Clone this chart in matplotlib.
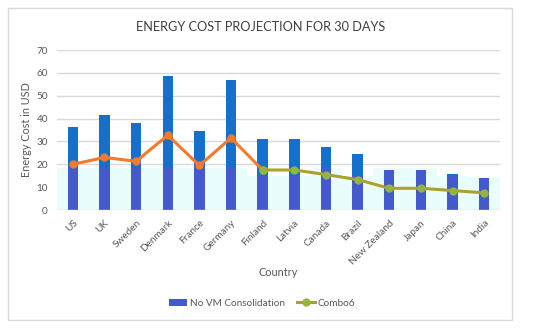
import matplotlib
matplotlib.use("Agg")
import matplotlib.pyplot as plt
from matplotlib.patches import Rectangle
from matplotlib.lines import Line2D
from matplotlib.patches import Patch
import numpy as np

countries = ["US", "UK", "Sweden", "Denmark", "France", "Germany", "Finland",
             "Latvia", "Canada", "Brazil", "New Zealand", "Japan", "China", "India"]
no_vm = [36.5, 41.5, 38.0, 58.7, 34.7, 57.0, 31.2, 31.2, 27.7, 24.3, 17.4, 17.4, 15.7, 14.0]
combo6 = [20.0, 23.0, 21.3, 32.7, 19.5, 31.5, 17.5, 17.5, 15.5, 13.3, 9.5, 9.5, 8.5, 7.5]
band = [18.3, 18.3, 18.3, 18.3, 18.3, 18.3, 15.0, 15.0, 18.3, 15.0, 18.3, 18.3, 15.0, 14.5]
yticks = [0, 10, 20, 30, 40, 50, 60, 70]

plt.rcParams['font.family'] = ['Lato', 'DejaVu Sans']
fig = plt.figure(figsize=(5.5, 3.31), dpi=100)
fig.patches.append(Rectangle((8/550, 1-320/331), 504/550, 312/331, transform=fig.transFigure,
                             fill=False, edgecolor="#D9D9D9", linewidth=1))
ax = fig.add_axes([57/550, 1-210/331, 443/550, 160/331])
x = np.arange(len(countries))

ax.bar(x, band, width=1.0, color="#E9FDFD", zorder=1)
ax.bar(x, no_vm, width=0.33, color="#1570CC", zorder=2)
ax.bar(x, [min(a, b) for a, b in zip(no_vm, band)], width=0.33, color="#4459CB", zorder=2.5)

ax.plot(x[:7], combo6[:7], color="#F47A2C", linewidth=2.2, marker="o", markersize=5,
        markerfacecolor="#F47A2C", markeredgecolor="#F47A2C", zorder=4)
ax.plot(x[6:], combo6[6:], color="#ADA02E", linewidth=2.2, marker="o", markersize=5,
        markerfacecolor="#93B63C", markeredgecolor="#93B63C", zorder=4)

ax.set_xlim(-0.5, len(countries) - 0.5)
ax.set_ylim(0, 70)
ax.set_yticks(yticks)
ax.yaxis.grid(True, color="#D9D9D9", linewidth=1)
ax.set_axisbelow(True)
for s in ax.spines.values():
    s.set_visible(False)
ax.tick_params(axis='both', length=0, labelsize=7.2, labelcolor="#595959")
ax.tick_params(axis='y', pad=6.5)
ax.set_xticks(x)
ax.set_xticklabels(countries, rotation=45, ha='right', rotation_mode='anchor')
ax.tick_params(axis='x', pad=6)
ax.axhline(0, color="#D9D9D9", linewidth=1, zorder=3)

fig.text(27/550, 1-130/331, "Energy Cost in USD", rotation=90, ha='center', va='center',
         fontsize=7.8, color="#595959")
fig.text(278/550, 1-273/331, "Country", ha='center', va='center', fontsize=7.8, color="#595959")
fig.text(261/550, 1-27/331, "ENERGY COST PROJECTION FOR 30 DAYS", ha='center', va='center',
         fontsize=9.2, color="#404040")

handles = [Patch(facecolor="#4459CB"),
           Line2D([0], [0], color="#ADA02E", linewidth=2.2, marker="o", markersize=5,
                  markerfacecolor="#93B63C", markeredgecolor="#93B63C")]
fig.legend(handles, ["No VM Consolidation", "Combo6"], loc='center', bbox_to_anchor=(262/550, 1-303/331),
           ncol=2, frameon=False, fontsize=7.2, labelcolor="#595959", handlelength=1.8,
           handletextpad=0.3, columnspacing=1.2)

fig.savefig("out.png", dpi=100)
